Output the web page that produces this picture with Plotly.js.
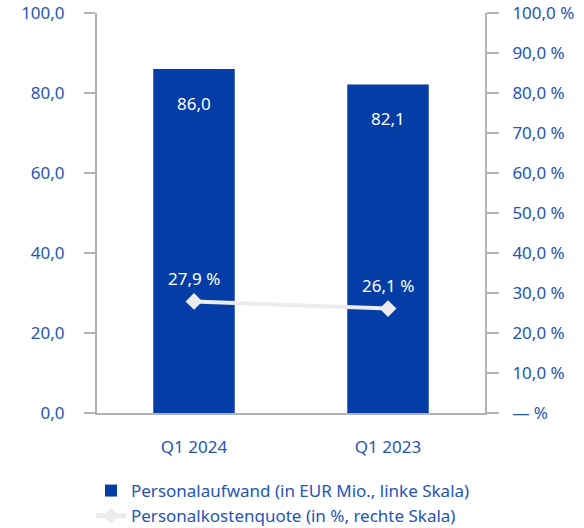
<!DOCTYPE html>
<html><head><meta charset="utf-8">
<script src="https://cdn.plot.ly/plotly-3.0.1.min.js"></script>
<style>html,body{margin:0;padding:0;background:#fff}#chart{width:584px;height:528px}</style>
</head><body><div id="chart"></div>
<script>
const categories = ["Q1 2024", "Q1 2023"];
const personalaufwand = [86.0, 82.1];
const personalaufwandLabels = ["86,0", "82,1"];
const quote = [27.9, 26.1];
const quoteLabels = ["27,9 %", "26,1 %"];
const leftTickVals = [0, 20, 40, 60, 80, 100];
const leftTickText = ["0,0", "20,0", "40,0", "60,0", "80,0", "100,0"];
const rightTickVals = [0, 10, 20, 30, 40, 50, 60, 70, 80, 90, 100];
const rightTickText = ["— %", "10,0 %", "20,0 %", "30,0 %", "40,0 %", "50,0 %", "60,0 %", "70,0 %", "80,0 %", "90,0 %", "100,0 %"];

const blue = "#043da6";
const textBlue = "#2455b5";
const axisGray = "#b3b3b3";
const FONT = "'Noto Sans', 'Open Sans', sans-serif";
const FS = 17;

const traces = [
  {type: "bar", x: categories, y: personalaufwand, name: "Personalaufwand (in EUR Mio., linke Skala)",
   marker: {color: blue}, width: 0.42, yaxis: "y", hoverinfo: "skip"},
  {type: "scatter", mode: "lines+markers", x: categories, y: quote, name: "Personalkostenquote (in %, rechte Skala)",
   yaxis: "y2", line: {color: "#ececec", width: 4},
   marker: {symbol: "diamond", size: 13, color: "#ececec"}, hoverinfo: "skip"}
];

const annotations = [];
categories.forEach((c, i) => {
  annotations.push({x: c, y: personalaufwand[i], xref: "x", yref: "y", text: personalaufwandLabels[i],
    showarrow: false, yshift: -34, font: {family: FONT, size: FS, color: "#ffffff"}});
  annotations.push({x: c, y: quote[i], xref: "x", yref: "y2", text: quoteLabels[i],
    showarrow: false, yshift: 23, font: {family: FONT, size: FS, color: "#ffffff"}});
});

const layout = {
  width: 584, height: 528,
  margin: {l: 97, r: 99, t: 13, b: 115, autoexpand: false},
  paper_bgcolor: "#fff", plot_bgcolor: "#fff",
  font: {family: FONT, size: FS, color: textBlue},
  showlegend: true,
  legend: {x: 91/584, xref: "container", xanchor: "left", y: 1 - 473/528, yref: "container", yanchor: "top",
    orientation: "v", font: {family: FONT, size: FS, color: textBlue}, tracegroupgap: 0, itemsizing: "constant",
    bgcolor: "rgba(0,0,0,0)"},
  xaxis: {showline: true, linecolor: axisGray, linewidth: 2, ticks: "", showgrid: false, automargin: false,
    zeroline: false, tickfont: {family: FONT, size: FS, color: textBlue}, ticklabelstandoff: 18},
  yaxis: {range: [0, 100], tickvals: leftTickVals, ticktext: leftTickText, showgrid: false, zeroline: false,
    automargin: false,
    showline: true, linecolor: axisGray, linewidth: 2, ticks: "outside", ticklen: 11, tickcolor: axisGray,
    tickwidth: 2, tickfont: {family: FONT, size: FS, color: textBlue}, ticklabelstandoff: 16},
  yaxis2: {range: [0, 100], overlaying: "y", side: "right", tickvals: rightTickVals, ticktext: rightTickText,
    automargin: false,
    showgrid: false, zeroline: false, showline: true, linecolor: axisGray, linewidth: 2, ticks: "outside",
    ticklen: 12, tickcolor: axisGray, tickwidth: 2, tickfont: {family: FONT, size: FS, color: textBlue},
    ticklabelstandoff: 10},
  annotations: annotations
};

Plotly.newPlot("chart", traces, layout, {displayModeBar: false, staticPlot: true});
</script></body></html>
